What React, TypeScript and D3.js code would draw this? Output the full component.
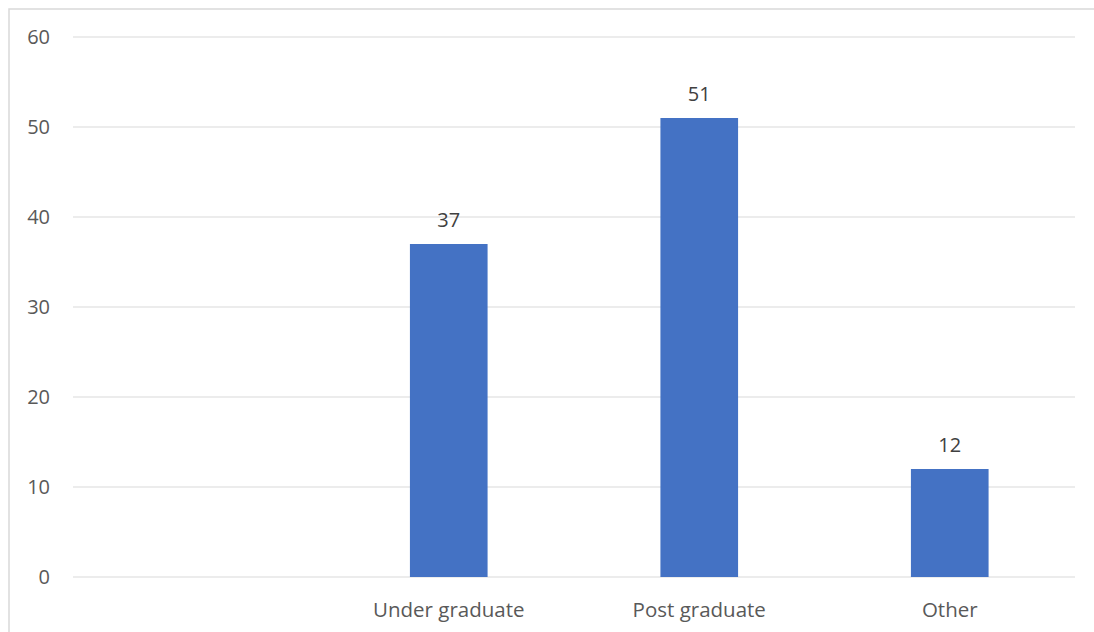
import React, { useEffect, useRef } from "react";
import * as d3 from "d3";

const categories = ["", "Under graduate", "Post graduate", "Other"];
const values = [null, 37, 51, 12];
const yTicks = [0, 10, 20, 30, 40, 50, 60];

const W = 1094;
const H = 632;
const m = { top: 37, right: 19, bottom: 55, left: 73 };

const App = () => {
  const svgRef = useRef<SVGSVGElement | null>(null);

  useEffect(() => {
    const svg = d3.select(svgRef.current);
    svg.selectAll("*").remove();
    const font = "Open Sans, Noto Sans, sans-serif";

    // outer chart frame
    svg
      .append("rect")
      .attr("x", 9)
      .attr("y", 9)
      .attr("width", W + 20)
      .attr("height", H + 20)
      .attr("fill", "#fff")
      .attr("stroke", "#d9d9d9")
      .attr("stroke-width", 1.5);

    const x = d3
      .scaleBand()
      .domain(categories.map((c, i) => String(i)))
      .range([m.left, W - m.right])
      .paddingInner(0.69)
      .paddingOuter(0.345);

    const y = d3.scaleLinear().domain([0, 60]).range([H - m.bottom, m.top]);

    // gridlines
    svg
      .append("g")
      .selectAll("line")
      .data(yTicks)
      .enter()
      .append("line")
      .attr("x1", m.left)
      .attr("x2", W - m.right)
      .attr("y1", (d) => y(d))
      .attr("y2", (d) => y(d))
      .attr("stroke", "#d9d9d9")
      .attr("stroke-width", 1.2);

    // y labels
    svg
      .append("g")
      .selectAll("text")
      .data(yTicks)
      .enter()
      .append("text")
      .attr("x", 50)
      .attr("y", (d) => y(d))
      .attr("dy", "0.36em")
      .attr("text-anchor", "end")
      .attr("font-family", font)
      .attr("font-size", 20)
      .attr("fill", "#595959")
      .text((d) => d);

    const rows = categories.map((c, i) => ({ key: String(i), label: c, v: values[i] }));

    // bars
    svg
      .append("g")
      .selectAll("rect")
      .data(rows.filter((r) => r.v != null))
      .enter()
      .append("rect")
      .attr("x", (d) => x(d.key)!)
      .attr("width", x.bandwidth())
      .attr("y", (d) => y(d.v as number))
      .attr("height", (d) => y(0) - y(d.v as number))
      .attr("fill", "#4472c4");

    // data labels
    svg
      .append("g")
      .selectAll("text")
      .data(rows.filter((r) => r.v != null))
      .enter()
      .append("text")
      .attr("x", (d) => x(d.key)! + x.bandwidth() / 2)
      .attr("y", (d) => y(d.v as number) - 17)
      .attr("text-anchor", "middle")
      .attr("font-family", font)
      .attr("font-size", 20)
      .attr("fill", "#404040")
      .text((d) => d.v as number);

    // category labels
    svg
      .append("g")
      .selectAll("text")
      .data(rows)
      .enter()
      .append("text")
      .attr("x", (d) => x(d.key)! + x.bandwidth() / 2)
      .attr("y", 617)
      .attr("text-anchor", "middle")
      .attr("font-family", font)
      .attr("font-size", 20.5)
      .attr("fill", "#595959")
      .text((d) => d.label);
  }, []);

  return (
    <svg
      ref={svgRef}
      width={W}
      height={H}
      style={{ position: "absolute", left: 0, top: 0, background: "#fff" }}
    />
  );
};

export default App;
